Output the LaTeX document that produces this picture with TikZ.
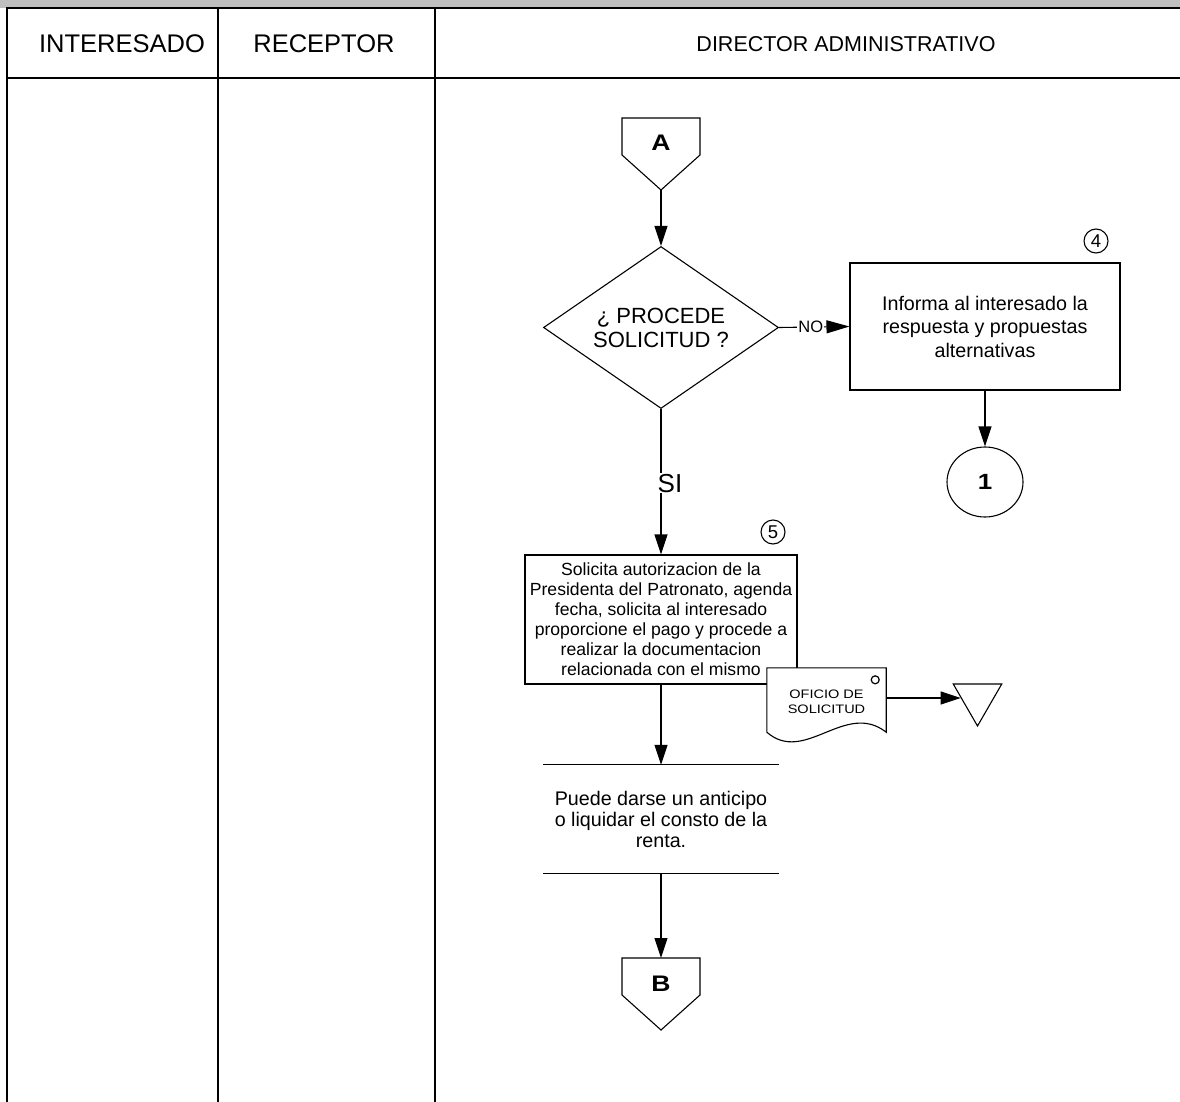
\documentclass[tikz,border=0pt]{standalone}
\usepackage{fontspec}
\setmainfont{Liberation Sans}
\newfontfamily\widefont[FakeStretch=1.18]{Liberation Sans}
\usetikzlibrary{arrows.meta,shapes.geometric,calc}
\newcommand{\fsz}[2]{\fontsize{#1}{#2}\selectfont}

\begin{document}
\begin{tikzpicture}[x=1pt,y=-1pt,
  lane/.style={line width=1.4pt},
  hdr/.style={inner sep=0pt},
  shp/.style={draw, line width=1.1pt},
  arr/.style={-{Triangle[length=20pt,width=13pt]}, line width=1.1pt},
  procbox/.style={shp, align=center, inner sep=0pt},
  numcirc/.style={shp, circle, minimum size=24pt, inner sep=0pt, font=\fsz{18.5}{18.5}},
  conn/.style={font=\widefont\bfseries\fsz{22.5}{22.5}},
  lbl/.style={fill=white, inner sep=1pt}
]
\useasboundingbox (0,0) rectangle (1180,1102);

% title band and swimlanes
\fill[black!25] (0,0) rectangle (1180,8);
\draw[lane] (1180,8) -- (7,8) -- (7,1102);
\draw[lane] (7,78) -- (1180,78);
\draw[lane] (218,8) -- (218,1102);
\draw[lane] (435,8) -- (435,1102);

\node[hdr, font=\fsz{25.5}{26}] (h1) at (122,44) {INTERESADO};
\node[hdr, font=\fsz{25.5}{26}] (h2) at (324,44) {RECEPTOR};
\node[hdr, font=\fsz{21.5}{22}] (h3) at (846,44) {DIRECTOR ADMINISTRATIVO};

% off-page connector A
\node[conn] (A) at (661,143) {A};
\draw[line width=1.1pt] ($(A)+(-39,-25)$) -- ($(A)+(39,-25)$) -- ($(A)+(39,12)$)
  -- ($(A)+(0,47)$) -- ($(A)+(-39,12)$) -- cycle;
\coordinate (Atip) at ($(A)+(0,47)$);

% decision
\node[shp, diamond, shape aspect=1.45, minimum width=235pt, minimum height=162pt,
      inner sep=0pt, align=center, font=\fsz{22}{24}] (dec) at (661,327.5) {¿ PROCEDE\\SOLICITUD ?};
\draw[arr] (Atip) -- (dec.north);

% branch NO
\node[procbox, minimum width=270pt, minimum height=127pt, font=\fsz{19.7}{23.5}]
  (inf) at (985,326.5) {Informa al interesado la\\respuesta y propuestas\\alternativas};
\node[numcirc] (n4) at (1096,241) {4};
\draw[line width=1.1pt, -{Triangle[length=23pt,width=13pt]}] (dec.east) -- node[lbl, pos=0.45, font=\fsz{16.5}{17}] {NO} (inf.west);

\node[shp, ellipse, minimum width=76pt, minimum height=70pt, inner sep=0pt,
      font=\widefont\bfseries\fsz{22}{22}] (c1) at (985,482) {1};
\draw[arr] (inf.south) -- (c1.north);

% branch SI
\node[procbox, minimum width=272pt, minimum height=129pt, font=\fsz{17.6}{20}]
  (sol) at (661,619.5) {Solicita autorizacion de la\\Presidenta del Patronato, agenda\\fecha, solicita al interesado\\proporcione el pago y procede a\\realizar la documentacion\\relacionada con el mismo};
\node[numcirc] (n5) at (773,532) {5};
\draw[arr] (dec.south) -- node[lbl, pos=0.51, xshift=9pt, font=\fsz{26}{26}] {SI} (sol.north);

% document
\node[minimum width=119pt, minimum height=64pt, inner sep=0pt] (doc) at (826.5,700) {};
\fill[white] (doc.north west) -- (doc.north east) -- (doc.south east)
  .. controls ($(doc.south east)+(-41,-32)$) and ($(doc.south west)+(38,33)$) .. (doc.south west) -- cycle;
\draw[line width=1.1pt] (doc.north west) -- (doc.north east) -- (doc.south east)
  .. controls ($(doc.south east)+(-41,-32)$) and ($(doc.south west)+(38,33)$) .. (doc.south west) -- cycle;
\node at (826.5,702) [font=\widefont\fsz{12.3}{15.5}, align=center, inner sep=0pt] (doctxt) {OFICIO DE\\SOLICITUD};
\draw[line width=1.2pt] ($(doc.north east)+(-11,12)$) circle (4);

% archive triangle
\node[shp, regular polygon, regular polygon sides=3, shape border rotate=180,
      minimum size=56pt, inner sep=0pt] (tri) at (977.5,698) {};
\draw[arr] (doc.east |- tri) -- (tri);

% annotation
\node[minimum width=236pt, minimum height=108pt, inner sep=0pt, align=center,
      font=\fsz{19.7}{21}] (note) at (661,819) {Puede darse un anticipo\\o liquidar el consto de la\\renta.};
\draw[line width=1.1pt] (note.north west) -- (note.north east);
\draw[line width=1.1pt] (note.south west) -- (note.south east);
\draw[arr] (sol.south) -- (note.north);

% off-page connector B
\node[conn] (B) at (661,984) {B};
\draw[line width=1.1pt] ($(B)+(-39,-26)$) -- ($(B)+(39,-26)$) -- ($(B)+(39,11)$)
  -- ($(B)+(0,46)$) -- ($(B)+(-39,11)$) -- cycle;
\coordinate (Btop) at ($(B)+(0,-26)$);
\draw[arr] (note.south) -- (Btop);
\end{tikzpicture}
\end{document}
